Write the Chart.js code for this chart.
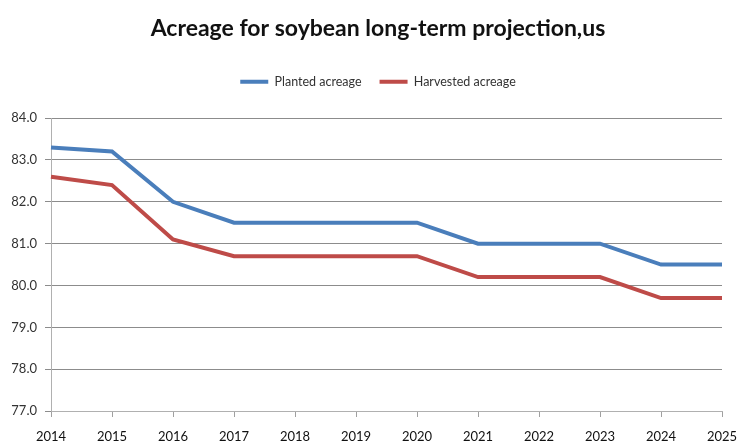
<!DOCTYPE html>
<html>
<head>
<meta charset="utf-8">
<script src="https://cdn.jsdelivr.net/npm/chart.js@4/dist/chart.umd.min.js"></script>
<style>
  html, body { margin: 0; padding: 0; background: #fff; }
  #wrap { width: 739px; height: 443px; }
</style>
</head>
<body>
<div id="wrap"><canvas id="acreageCanvas" width="739" height="443"></canvas></div>
<script>
const years = ["2014","2015","2016","2017","2018","2019","2020","2021","2022","2023","2024","2025"];
const planted = [83.3, 83.2, 82.0, 81.5, 81.5, 81.5, 81.5, 81.0, 81.0, 81.0, 80.5, 80.5];
const harvested = [82.6, 82.4, 81.1, 80.7, 80.7, 80.7, 80.7, 80.2, 80.2, 80.2, 79.7, 79.7];

const FONT = "Lato, 'Liberation Sans', sans-serif";

// extra room under the legend before the plot starts
const legendGap = {
  id: "legendGap",
  beforeInit(chart) {
    const fit = chart.legend.fit;
    chart.legend.fit = function () {
      fit.call(this);
      this.height += 20;
    };
  },
  // centre title and legend a little right of the plot centre
  beforeDraw(chart) {
    chart.titleBlock.left = 17;
    chart.titleBlock.right = 739;
    chart.legend.left = 17;
    chart.legend.right = 739;
  }
};

new Chart(document.getElementById("acreageCanvas"), {
  type: "line",
  data: {
    labels: years,
    datasets: [{
      label: "Planted acreage",
      data: planted,
      borderColor: "#4a7ebb",
      backgroundColor: "#4a7ebb",
      borderWidth: 4,
      pointRadius: 0,
      tension: 0
    }, {
      label: "Harvested acreage",
      data: harvested,
      borderColor: "#be4b48",
      backgroundColor: "#be4b48",
      borderWidth: 4,
      pointRadius: 0,
      tension: 0
    }]
  },
  options: {
    responsive: false,
    animation: false,
    layout: { padding: { left: 0, right: 17, top: 0, bottom: 0 } },
    plugins: {
      title: {
        display: true,
        text: "Acreage for soybean long-term projection,us",
        color: "#111",
        font: { family: FONT, size: 23, weight: "bold" },
        padding: { top: 15, bottom: 15 }
      },
      legend: {
        labels: {
          usePointStyle: true,
          pointStyle: "line",
          pointStyleWidth: 28,
          color: "#333",
          font: { family: FONT, size: 12.5 },
          padding: 18
        }
      },
      tooltip: { enabled: false }
    },
    scales: {
      x: {
        offset: false,
        grid: { drawOnChartArea: false, drawTicks: true, tickLength: 6, color: "#a0a0a0" },
        border: { color: "#b0b0b0" },
        ticks: { color: "#111", font: { family: FONT, size: 13 }, padding: 12, maxRotation: 0 },
        afterFit: s => {
          s.height = 32;
          s.paddingLeft = 0;
          s.paddingRight = 0;
        }
      },
      y: {
        min: 77,
        max: 84,
        grid: { color: "#8c8c8c", tickLength: 6 },
        border: { color: "#b0b0b0" },
        ticks: {
          stepSize: 1,
          color: "#333",
          font: { family: FONT, size: 13 },
          padding: 8,
          callback: v => v.toFixed(1)
        },
        afterFit: s => { s.width = 51; }
      }
    }
  },
  plugins: [legendGap]
});
</script>
</body>
</html>
